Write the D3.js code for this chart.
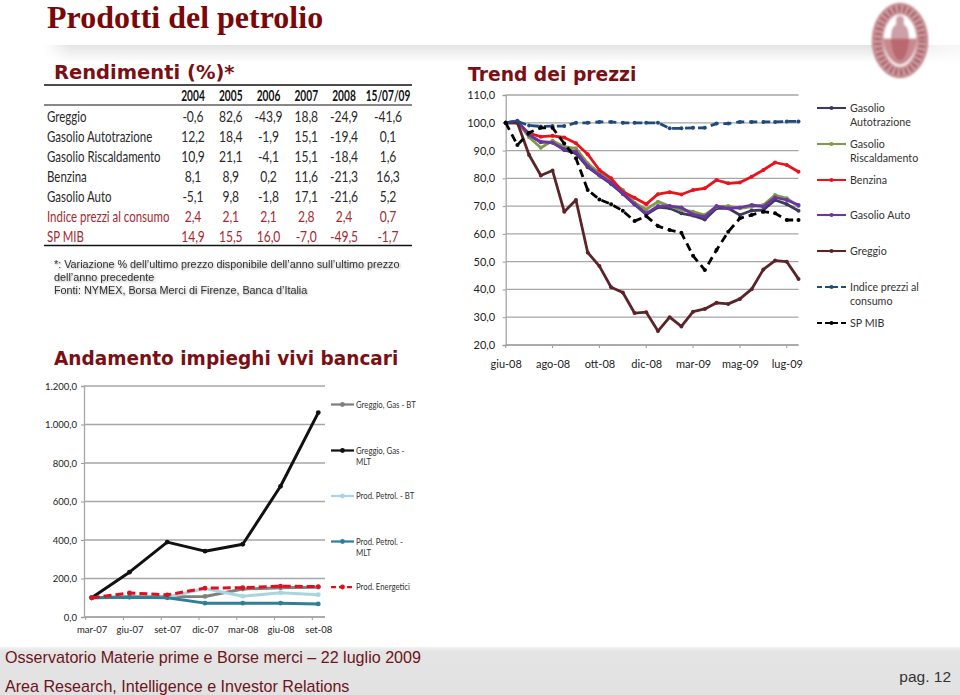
<!DOCTYPE html>
<html><head><meta charset="utf-8">
<script src="https://cdn.jsdelivr.net/npm/d3@7"></script>
<style>html,body{margin:0;padding:0;background:#fff}svg{display:block}text{font-family:Lato,sans-serif}</style>
</head><body><div id="c"></div>
<script>
// ---------- table data ----------
const tableYears = ["2004","2005","2006","2007","2008","15/07/09"];
const tableNames = ["Greggio","Gasolio Autotrazione","Gasolio Riscaldamento","Benzina","Gasolio Auto","Indice prezzi al consumo","SP MIB"];
const rowGreggio = ["-0,6","82,6","-43,9","18,8","-24,9","-41,6"];
const rowAutotrazione = ["12,2","18,4","-1,9","15,1","-19,4","0,1"];
const rowRiscaldamento = ["10,9","21,1","-4,1","15,1","-18,4","1,6"];
const rowBenzina = ["8,1","8,9","0,2","11,6","-21,3","16,3"];
const rowAuto = ["-5,1","9,8","-1,8","17,1","-21,6","5,2"];
const rowIndice = ["2,4","2,1","2,1","2,8","2,4","0,7"];
const rowMib = ["14,9","15,5","16,0","-7,0","-49,5","-1,7"];
// ---------- trend chart data ----------
const trendDates = ["giu-08","giu-08","lug-08","lug-08","ago-08","ago-08","set-08","set-08","ott-08","ott-08","nov-08","nov-08","dic-08","dic-08","gen-09","feb-09","mar-09","mar-09","apr-09","apr-09","mag-09","mag-09","giu-09","giu-09","lug-09","lug-09"];
const trendTickEvery = 4;
const trendTicks = [110,100,90,80,70,60,50,40,30,20];
const gasolioAutotrazione = [100,100.5,95.5,93,93,90.2,89,84,81,78,74.4,70.6,67,69.6,69.2,67.4,66.6,65.2,69.2,69.2,66.8,68.4,68.6,72.2,70.7,68.3];
const gasolioRiscaldamento = [100,100.2,94.8,91,93.5,91.4,90.8,85.4,81.8,79,75.8,71.2,68.8,71.6,70,68.6,68,66.8,69.8,70,69.2,69.8,70.4,74,72.8,70];
const benzina = [100,100,96.2,95,95.3,94.7,92.6,88.7,83,80,75.2,73,70.7,74.3,75,74.2,75.8,76.4,79.4,78.2,78.5,80.6,83,85.7,84.8,82.4];
const gasolioAuto = [100,100.7,95.6,93.2,92.8,90.5,89.6,84.4,81.2,78.4,74.6,70.7,67.4,70,70,69.5,67,66.2,70,69.2,69.5,70.4,69.8,73.1,72.2,70.4];
const greggio = [100,100,88.4,81,82.8,68,72.2,53.3,48.4,40.8,38.9,31.5,31.8,25,30,26.7,32,33,35.2,34.8,36.6,40.1,47.2,50.4,50,43.8];
const indicePrezzi = [100,100.5,99,98.7,98.8,98.8,100,100,100.3,100.3,100,100,100,100,98,98,98.2,98.2,99.7,99.7,100.3,100.3,100.3,100.3,100.5,100.5];
const spMib = [100,92,96.4,98.2,98.2,92.5,87.2,75.8,72.4,70.7,68.3,64.6,66.4,62.8,61.4,60.4,52.1,47,54.2,60.8,65.6,66.8,68,67.4,65,65];
// ---------- impieghi chart data ----------
const impieghiDates = ["mar-07","giu-07","set-07","dic-07","mar-08","giu-08","set-08"];
const impieghiTicks = [1200,1000,800,600,400,200,0];
const greggioBT = [100,105,105,107,145,152,155];
const greggioMLT = [100,233,389,342,378,679,1062];
const petrolBT = [100,103,103,148,108,126,116];
const petrolMLT = [100,103,100,72,72,72,68];
const energetici = [100,125,115,150,152,160,158];

const W=960,H=695;
const svg=d3.select("#c").append("svg").attr("width",W).attr("height",H);
const it=d3.formatLocale({decimal:",",thousands:".",grouping:[3],currency:["",""]});
const fmt=it.format(",.1f");
const defs=svg.append("defs");
const g1=defs.append("linearGradient").attr("id","band").attr("x1",0).attr("x2",0).attr("y1",0).attr("y2",1);
g1.append("stop").attr("offset",0).attr("stop-color","#e4e4e4");
g1.append("stop").attr("offset",1).attr("stop-color","#fff");
const g2=defs.append("linearGradient").attr("id","bandFade");
g2.append("stop").attr("offset",0).attr("stop-color","#fff").attr("stop-opacity",1);
g2.append("stop").attr("offset",.03).attr("stop-color","#fff").attr("stop-opacity",0);
g2.append("stop").attr("offset",.9).attr("stop-color","#fff").attr("stop-opacity",0);
g2.append("stop").attr("offset",1).attr("stop-color","#fff").attr("stop-opacity",.7);
const g3=defs.append("linearGradient").attr("id","foot").attr("x1",0).attr("x2",0).attr("y1",0).attr("y2",1);
g3.append("stop").attr("offset",0).attr("stop-color","#f2f2f2");
g3.append("stop").attr("offset",.1).attr("stop-color","#e4e4e4");
g3.append("stop").attr("offset",1).attr("stop-color","#e2e2e2");
const bl=defs.append("filter").attr("id","soft");bl.append("feGaussianBlur").attr("stdDeviation",0.8);

// condensed text helper
function T(p,s,x,y,o={}){
  const t=p.append("text").text(s)
    .attr("transform",`translate(${x},${y}) scale(${o.sx||1},1)`)
    .attr("dy","0.35em").attr("font-size",o.size||12).attr("fill",o.fill||"#222")
    .attr("text-anchor",o.anchor||"start");
  if(o.bold)t.attr("font-weight","bold");
  if(o.family)t.style("font-family",o.family);
  if(o.shadow)t.style("filter","drop-shadow(1px 1px 1px rgba(90,90,90,.55))");
  return t;
}
// banner + footer
svg.append("rect").attr("x",44).attr("y",45).attr("width",916).attr("height",18).attr("fill","url(#band)");
svg.append("rect").attr("x",44).attr("y",45).attr("width",916).attr("height",18).attr("fill","url(#bandFade)");
svg.append("rect").attr("x",0).attr("y",647).attr("width",W).attr("height",48).attr("fill","url(#foot)");

// titles
T(svg,"Prodotti del petrolio",47,17,{size:32,bold:true,fill:"#7a0808",family:"'Liberation Serif',serif"});
const vb={bold:true,fill:"#7a1014",family:"'DejaVu Sans',sans-serif"};
T(svg,"Rendimenti (%)*",54,72,{...vb,size:19.5});
T(svg,"Trend dei prezzi",468,74,{...vb,size:19.5,sx:.96});
T(svg,"Andamento impieghi vivi bancari",54,358,{...vb,size:19.5,sx:.95});

// table
const colX=d3.scalePoint().domain(tableYears.slice(0,5)).range([193,344]);
const cx=y=>y==="15/07/09"?388:colX(y);
const rows=[rowGreggio,rowAutotrazione,rowRiscaldamento,rowBenzina,rowAuto,rowIndice,rowMib];
const rowY=d3.scalePoint().domain(tableNames).range([117,236.5]);
[[85,1.5],[105,1],[245.5,1.5]].forEach(([y,w])=>svg.append("line").attr("x1",44).attr("x2",412).attr("y1",y).attr("y2",y).attr("stroke","#111").attr("stroke-width",w));
tableYears.forEach(y=>T(svg,y,cx(y),96,{anchor:"middle",size:14.5,bold:true,fill:"#111",sx:.7}));
tableNames.forEach((n,i)=>{
  const f=i>=5?"#a52a2f":"#2a2a2a";
  T(svg,n,47,rowY(n),{size:15.5,fill:f,sx:.74});
  rows[i].forEach((v,j)=>T(svg,v,cx(tableYears[j]),rowY(n),{anchor:"middle",size:15.5,fill:f,sx:.78}));
});
// note
const nt={size:10.8,fill:"#333",family:"'Liberation Sans',sans-serif",shadow:true};
T(svg,"*: Variazione % dell’ultimo prezzo disponibile dell’anno  sull’ultimo prezzo",54,264,nt);
T(svg,"dell’anno precedente",54,277,nt);
T(svg,"Fonti: NYMEX, Borsa Merci di Firenze, Banca d’Italia",54,290,nt);
// footer text
const ft={size:16.1,fill:"#6d1420",family:"'Liberation Sans',sans-serif"};
T(svg,"Osservatorio Materie prime e Borse merci – 22 luglio 2009",5,657,ft);
T(svg,"Area Research, Intelligence e Investor Relations",5,686,ft);
T(svg,"pag. 12",951,677,{...ft,size:15.5,anchor:"end",fill:"#333"});

// logo
const lg=svg.append("g").attr("transform","translate(900,40.5)").attr("filter","url(#soft)");
lg.append("ellipse").attr("rx",22).attr("ry",31.5).attr("fill","#fff").attr("stroke","#cf9ba0").attr("stroke-width",11);
lg.append("ellipse").attr("rx",22).attr("ry",31.5).attr("fill","none").attr("stroke","#9c4f57").attr("stroke-width",7).attr("stroke-dasharray","2,3");
lg.append("ellipse").attr("rx",27.5).attr("ry",37).attr("fill","none").attr("stroke","#a5585f").attr("stroke-width",1);
lg.append("path").attr("d","M-17,-2 H17 C16,14 7,24 0,24 C-7,24 -16,14 -17,-2 Z").attr("fill","#c78a90");
lg.append("path").attr("d","M-9,-2 C-9,-12 -7,-14 -4,-16 V-21 C-4,-26 4,-26 4,-21 V-16 C7,-14 9,-12 9,-2 Z").attr("fill","#cda0a8");
lg.append("path").attr("d","M-9,-2 H9 C9,10 4,20 0,20 C-4,20 -9,10 -9,-2 Z").attr("fill","#b9686f");

// ---------- generic chart ----------
function chart(o){
  const g=svg.append("g");
  const y=d3.scaleLinear().domain(o.yDomain).range(o.yRange);
  const x=d3.scalePoint().domain(d3.range(o.dates.length)).range(o.xRange);
  g.append("g").selectAll("line").data(o.yTicks).join("line")
    .attr("x1",o.axisX).attr("x2",o.gridEnd).attr("y1",d=>y(d)).attr("y2",d=>y(d))
    .attr("stroke","#a6a6a6").attr("stroke-width",1.3);
  const ay=g.append("g").attr("transform",`translate(${o.axisX},0)`)
    .call(d3.axisLeft(y).tickValues(o.yTicks).tickFormat(fmt).tickSize(3).tickPadding(o.padY));
  const ax=g.append("g").attr("transform",`translate(0,${o.yRange[0]})`)
    .call(d3.axisBottom(x).tickValues(o.tickIdx).tickFormat(i=>o.dates[i]).tickSize(0).tickPadding(o.padX));
  ax.selectAll(".tick line").remove();
  g.append("g").selectAll("line").data(o.tickIdx).join("line")
    .attr("x1",i=>x(i)+o.tickShift).attr("x2",i=>x(i)+o.tickShift)
    .attr("y1",o.yRange[0]).attr("y2",o.yRange[0]+3).attr("stroke","#999");
  ax.select(".domain").attr("stroke","none");
  g.append("line").attr("x1",o.axisX).attr("x2",o.gridEnd).attr("y1",o.yRange[0]).attr("y2",o.yRange[0]).attr("stroke","#a6a6a6").attr("stroke-width",1.3);
  ay.selectAll(".domain").attr("stroke","#a6a6a6").attr("stroke-width",1.3);
  ay.selectAll(".tick line").attr("stroke","#999");
  [ay,ax].forEach(a=>a.selectAll("text").style("font-family","Lato,sans-serif").attr("font-size",o.fontSize).attr("fill","#222"));
  const line=d3.line().x((d,i)=>x(i)).y(d=>y(d));
  o.series.forEach(s=>{
    const sg=g.append("g");
    sg.append("path").datum(s.v).attr("d",line).attr("fill","none").attr("stroke",s.c).attr("stroke-width",o.w)
      .attr("stroke-dasharray",s.dash?o.dash:null).attr("stroke-linejoin","round");
    sg.selectAll("circle").data(s.v).join("circle").attr("cx",(d,i)=>x(i)).attr("cy",d=>y(d)).attr("r",o.r).attr("fill",s.c);
  });
  o.series.forEach(s=>{
    const l=g.append("g");
    const ly=s.ly;
    l.append("line").attr("x1",o.legX[0]).attr("x2",o.legX[1]).attr("y1",ly).attr("y2",ly).attr("stroke",s.c).attr("stroke-width",o.w*.75).attr("stroke-dasharray",s.dash?"5,3":null);
    l.append("circle").attr("cx",(o.legX[0]+o.legX[1])/2).attr("cy",ly).attr("r",o.r).attr("fill",s.c);
    s.n.forEach((t,i)=>T(l,t,o.legX[1]+o.legGap,ly+i*o.legLH,{size:o.legSize,fill:"#333",sx:o.legSx}));
  });
}
chart({
  dates:trendDates,tickIdx:d3.range(0,trendDates.length,trendTickEvery),
  yDomain:[20,110],yRange:[345,95],yTicks:trendTicks,xRange:[505.7,798.5],axisX:505.7,gridEnd:798.5,
  padY:7.5,padX:15,fontSize:11,w:2.8,r:2,dash:"8,5",tickShift:0,
  legX:[817,846],legGap:4,legLH:14,legSize:11.5,legSx:.93,
  series:[
    {n:["Gasolio","Autotrazione"],v:gasolioAutotrazione,c:"#3c3a5e",ly:108},
    {n:["Gasolio","Riscaldamento"],v:gasolioRiscaldamento,c:"#7f9a4c",ly:144},
    {n:["Benzina"],v:benzina,c:"#e8131c",ly:180},
    {n:["Gasolio Auto"],v:gasolioAuto,c:"#6b35a3",ly:215},
    {n:["Greggio"],v:greggio,c:"#5c2428",ly:251},
    {n:["Indice prezzi al","consumo"],v:indicePrezzi,c:"#1f4a7c",dash:true,ly:287},
    {n:["SP MIB"],v:spMib,c:"#000",dash:true,ly:323}
  ]
});
chart({
  dates:impieghiDates,tickIdx:d3.range(impieghiDates.length),
  yDomain:[0,1200],yRange:[617,386],yTicks:impieghiTicks,xRange:[91.7,318.3],axisX:84,gridEnd:325,
  padY:4,padX:9,fontSize:9.5,w:3,r:2.4,dash:"8,4",tickShift:-6,
  legX:[331,354],legGap:2,legLH:11,legSize:9.5,legSx:.82,
  series:[
    {n:["Greggio, Gas - BT"],v:greggioBT,c:"#7f7f7f",ly:404.5},
    {n:["Greggio, Gas -","MLT"],v:greggioMLT,c:"#111",ly:450.5},
    {n:["Prod. Petrol. - BT"],v:petrolBT,c:"#a9d5e2",ly:496},
    {n:["Prod. Petrol. -","MLT"],v:petrolMLT,c:"#2f7f96",ly:541.5},
    {n:["Prod. Energetici"],v:energetici,c:"#e0101e",dash:true,ly:587}
  ]
});
</script></body></html>
